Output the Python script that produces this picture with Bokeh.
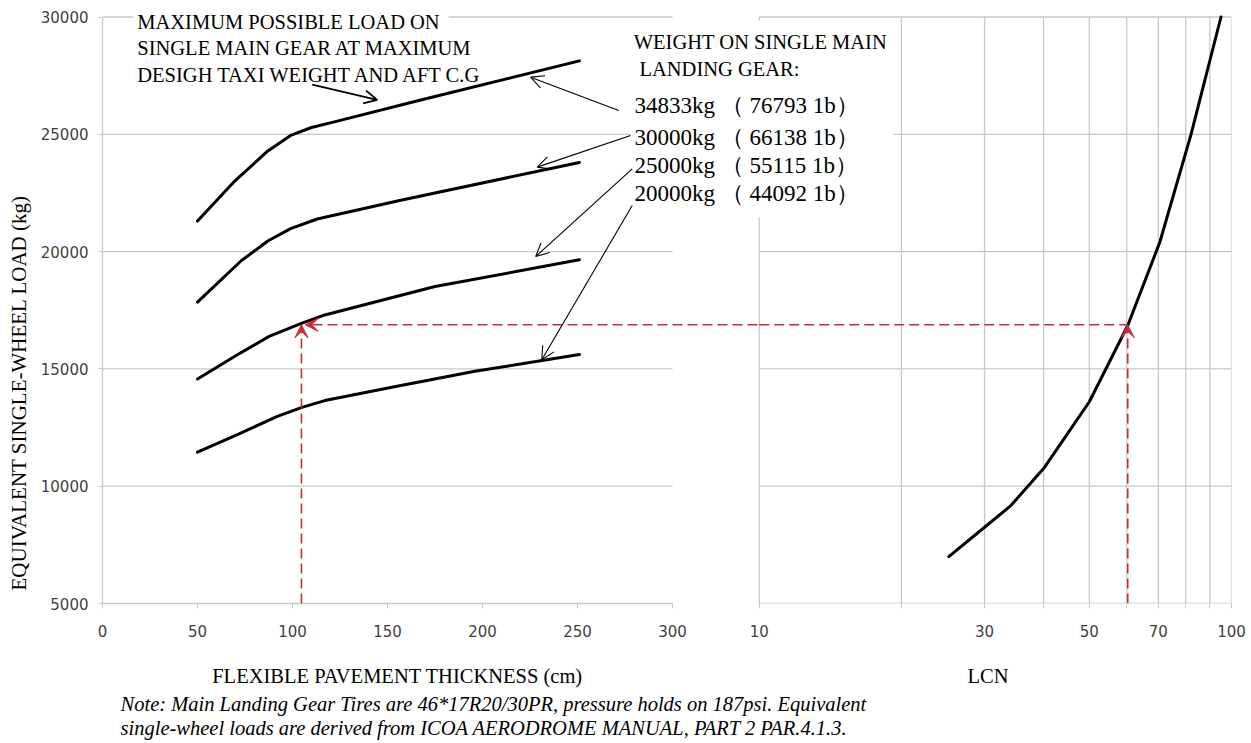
from bokeh.plotting import figure
from bokeh.layouts import column
from bokeh.models import (Range1d, LogScale, LinearAxis, LogAxis, FixedTicker, Label, Title,
                          Arrow, OpenHead, VeeHead, BoxAnnotation)
from bokeh.embed import file_html
from bokeh.resources import INLINE

# ---------------- data ----------------
thickness_ticks = [0, 50, 100, 150, 200, 250, 300]
load_ticks = [5000, 10000, 15000, 20000, 25000, 30000]
lcn_grid = [10, 20, 30, 40, 50, 60, 70, 80, 90, 100]
lcn_labelled = {10: "10", 30: "30", 50: "50", 70: "70", 100: "100"}

thick_34833 = [50, 69, 87, 99, 110, 122, 167, 251]
load_34833 = [21300, 22960, 24290, 24950, 25290, 25530, 26450, 28130]

thick_30000 = [50, 73, 87, 99, 113, 157, 251]
load_30000 = [17850, 19610, 20450, 20980, 21390, 22190, 23800]

thick_25000 = [50, 71, 88, 105, 117, 175, 251]
load_25000 = [14570, 15600, 16400, 16950, 17300, 18510, 19650]

thick_20000 = [50, 71, 92, 105, 117, 155, 196, 251]
load_20000 = [11450, 12200, 12980, 13360, 13650, 14260, 14900, 15610]

lcn_curve = [25.2, 30, 34, 40, 45, 50, 60.3, 70.5, 82.1, 95.0]
lcn_load = [7000, 8250, 9150, 10750, 12250, 13600, 16850, 20400, 25000, 30000]

example_thickness = 104.7
example_load = 16880
example_lcn = 60.3

weights_kg = ["34833kg", "30000kg", "25000kg", "20000kg"]
weights_lb = ["76793 1b", "66138 1b", "55115 1b", "44092 1b"]

# ---------------- layout ----------------
W = 1250
H_PLOT, H_TEXT = 655, 87
BL, BR, BT = 102, 19, 13
FRAME_BOTTOM = 603
BB = H_PLOT - FRAME_BOTTOM
FRAME_W = W - BL - BR
FRAME_H = FRAME_BOTTOM - BT
LEFT_PX, GAP_PX, RIGHT_PX = 570, 85, 471          # panel 1 width, gap, one LCN decade
KG_PER_PX = 25000 / 586.5
TXT_LIFT = 7                                      # px: baseline correction for labels

x_end = thickness_ticks[-1] * FRAME_W / LEFT_PX
x_at_lcn10 = thickness_ticks[-1] * (LEFT_PX + GAP_PX) / LEFT_PX
lcn_start = 10 ** (1 - (LEFT_PX + GAP_PX) / RIGHT_PX)
y_end = load_ticks[0] + FRAME_H * KG_PER_PX

GRID = "#c8c8c8"
TICKC = "#3f3f3f"
RED = "#cc2a36"
SERIF = "Liberation Serif"
SANS = "DejaVu Sans"

xr = Range1d(0, x_end)
lcn_r = Range1d(lcn_start, 100)

p = figure(width=W, height=H_PLOT, output_backend="svg", toolbar_location=None,
           x_range=xr, y_range=Range1d(load_ticks[0], y_end),
           x_axis_type=None, y_axis_type=None,
           min_border_left=BL, min_border_right=BR, min_border_top=BT, min_border_bottom=BB)
p.extra_x_ranges = {"lcn": lcn_r}
p.extra_x_scales = {"lcn": LogScale()}
p.outline_line_color = None
p.background_fill_color = "white"
p.border_fill_color = "white"

# ---- axes ----
yax = LinearAxis(ticker=FixedTicker(ticks=load_ticks), bounds=(load_ticks[0], load_ticks[-1]))
yax.axis_line_color = GRID
yax.axis_line_width = 1.3
yax.major_tick_line_color = GRID
yax.major_tick_out = 4
yax.major_tick_in = 0
yax.minor_tick_line_color = None
yax.major_label_standoff = 10
yax.major_label_text_font = SANS
yax.major_label_text_font_size = "15px"
yax.major_label_text_color = TICKC
p.add_layout(yax, "left")
p.add_layout(Title(text="EQUIVALENT SINGLE-WHEEL LOAD (kg)", align="left", offset=13,
                   vertical_align="top", standoff=10, text_font=SERIF, text_font_size="21px",
                   text_font_style="normal", text_color="black"), "left")

H_A = 36
xax = LinearAxis(ticker=FixedTicker(ticks=thickness_ticks), bounds=(thickness_ticks[0], thickness_ticks[-1]))
xax.axis_line_color = GRID
xax.axis_line_width = 1.3
xax.major_tick_line_color = GRID
xax.major_tick_out = 5
xax.major_tick_in = 0
xax.minor_tick_line_color = None
xax.major_label_standoff = 16
xax.major_label_text_font = SANS
xax.major_label_text_font_size = "15px"
xax.major_label_text_color = TICKC
p.add_layout(xax, "below")

lax = LogAxis(x_range_name="lcn", ticker=FixedTicker(ticks=lcn_grid), bounds=(lcn_grid[0], lcn_grid[-1]),
              major_label_overrides={v: lcn_labelled.get(v, "") for v in lcn_grid})
lax.axis_line_color = None
lax.major_tick_line_color = GRID
lax.major_tick_in = H_A
lax.major_tick_out = -(H_A - 5)
lax.minor_tick_out = 0
lax.minor_tick_in = 0
lax.minor_tick_line_color = None
lax.major_label_standoff = -15
lax.major_label_text_font = SANS
lax.major_label_text_font_size = "15px"
lax.major_label_text_color = TICKC
p.add_layout(lax, "below")

# ---- grid lines ----
p.segment(x0=thickness_ticks[0], x1=thickness_ticks[-1], y0=load_ticks[1:], y1=load_ticks[1:],
          line_color=GRID, line_width=1.3)
p.segment(x0=lcn_grid[0], x1=lcn_grid[-1], y0=load_ticks, y1=load_ticks,
          line_color=GRID, line_width=1.3, x_range_name="lcn")
p.segment(x0=lcn_grid, x1=lcn_grid, y0=load_ticks[0], y1=load_ticks[-1],
          line_color=GRID, line_width=1.3, x_range_name="lcn")

# ---- curves ----
for xs, ys in [(thick_34833, load_34833), (thick_30000, load_30000),
               (thick_25000, load_25000), (thick_20000, load_20000)]:
    p.line(xs, ys, line_color="black", line_width=3, line_join="round", line_cap="round")
p.line(lcn_curve, lcn_load, line_color="black", line_width=3, line_join="round",
       line_cap="round", x_range_name="lcn")

# ---- masks behind text blocks ----
p.add_layout(BoxAnnotation(left=16.3, right=182.1, bottom=29851, top=y_end,
                           fill_color="white", fill_alpha=1, line_color=None))
p.add_layout(BoxAnnotation(left=277.9, right=416.3, bottom=21453, top=29851,
                           fill_color="white", fill_alpha=1, line_color=None))

# ---- red dashed example ----
def red_head():
    return VeeHead(size=13, fill_color=RED, line_color=RED, line_width=1)

p.add_layout(Arrow(x_start=example_thickness, y_start=load_ticks[0], x_end=example_thickness, y_end=example_load,
                   line_color=RED, line_width=1.6, line_dash="10 5", end=red_head()))
p.add_layout(Arrow(x_start=x_at_lcn10, y_start=example_load, x_end=example_thickness + 2, y_end=example_load,
                   line_color=RED, line_width=1.6, line_dash="10 5", end=red_head()))
p.segment(x0=[lcn_grid[0]], x1=[example_lcn], y0=[example_load], y1=[example_load],
          line_color=RED, line_width=1.6, line_dash="10 5", x_range_name="lcn")
p.add_layout(Arrow(x_range_name="lcn", x_start=example_lcn, y_start=load_ticks[0], x_end=example_lcn,
                   y_end=example_load, line_color=RED, line_width=1.6, line_dash="10 5", end=red_head()))

# ---- black pointer arrows ----
p.add_layout(Arrow(x_start=110.4, y_start=27120, x_end=144.6, y_end=26465, line_width=1.8,
                   end=OpenHead(size=13, line_width=1.8)))
pointer_starts = [(271.7, 26014), (277.9, 24948), (278.8, 23529), (278.8, 21965)]
pointer_ends = [(225.3, 27436), (228.8, 23600), (228.0, 19790), (231.2, 15388)]
for (xs0, ys0), (xe, ye) in zip(pointer_starts, pointer_ends):
    p.add_layout(Arrow(x_start=xs0, y_start=ys0, x_end=xe, y_end=ye, line_width=1.1,
                       end=OpenHead(size=13, line_width=1.1)))

# ---- texts inside the plot ----
def lab(fig, x, y, text, size="20.5px", **kw):
    kw.setdefault("text_baseline", "alphabetic")
    fig.add_layout(Label(x=x, y=y, text=text, text_font=SERIF, text_font_size=size,
                         text_color="black", y_offset=TXT_LIFT, **kw))

lab(p, 18.3, 29497, "MAXIMUM POSSIBLE LOAD ON")
lab(p, 18.3, 28359, "SINGLE MAIN GEAR AT MAXIMUM")
lab(p, 18.3, 27221, "DESIGH TAXI WEIGHT AND AFT C.G")
lab(p, 279.6, 28657, "WEIGHT ON SINGLE MAIN")
lab(p, 282.6, 27506, "LANDING GEAR:")
for ykg, kg, lb in zip([25929, 24565, 23371, 22178], weights_kg, weights_lb):
    lab(p, 280, ykg, f"{kg} （ {lb}）", size="23px")

# ---- texts under the plot (same x scales) ----
t = figure(width=W, height=H_TEXT, output_backend="svg", toolbar_location=None,
           x_range=xr, y_range=Range1d(0, H_TEXT), x_axis_type=None, y_axis_type=None,
           min_border_left=BL, min_border_right=BR, min_border_top=0, min_border_bottom=0)
t.extra_x_ranges = {"lcn": lcn_r}
t.extra_x_scales = {"lcn": LogScale()}
t.outline_line_color = None
t.background_fill_color = "white"
t.border_fill_color = "white"

lab(t, 155.3, 60, "FLEXIBLE PAVEMENT THICKNESS (cm)", text_align="center")
lab(t, 30.5, 60, "LCN", text_align="center", x_range_name="lcn")
lab(t, 9.5, 32, "Note: Main Landing Gear Tires are 46*17R20/30PR, pressure holds on 187psi. Equivalent",
    text_font_style="italic")
lab(t, 9.5, 8, "single-wheel loads are derived from ICOA AERODROME MANUAL, PART 2 PAR.4.1.3.",
    text_font_style="italic")

layout = column(p, t, spacing=0)
open("out.html", "w").write(file_html(layout, INLINE))
